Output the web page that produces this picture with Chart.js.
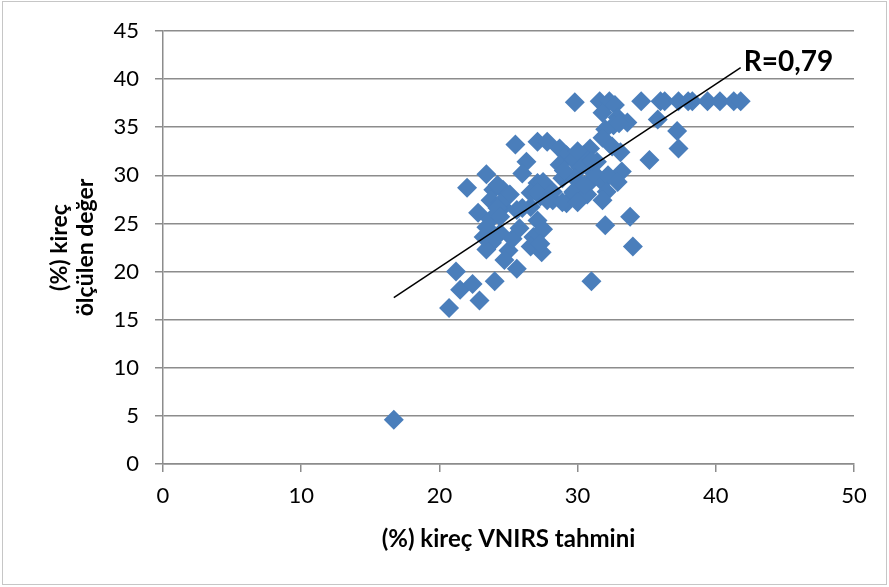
<!DOCTYPE html>
<html>
<head>
<meta charset="utf-8">
<script src="https://cdn.jsdelivr.net/npm/chart.js@4"></script>
<style>
html, body { margin: 0; padding: 0; background: #fff; }
#wrap { width: 889px; height: 587px; }
</style>
</head>
<body>
<div id="wrap"><canvas id="myChart" width="889" height="587"></canvas></div>
<script>
'use strict';

// measured vs predicted lime (%)
var predX = [
    16.7, 20.7, 21.2, 21.5, 22.4, 22.9, 24.0, 22.0, 22.8, 23.4,
    23.4, 23.8, 23.4, 24.4, 25.0, 24.7, 25.6, 25.3, 25.8, 23.2,
    24.6, 25.6, 26.6, 27.1, 26.8, 26.6, 27.5, 27.4, 27.3, 23.9,
    24.6, 25.1, 23.7, 24.4, 24.2, 23.7, 24.4, 26.0, 24.2, 25.5,
    26.3, 26.0, 27.1, 27.8, 27.1, 27.8, 27.3, 28.2, 29.2, 29.7,
    26.6, 28.7, 29.2, 29.7, 29.8, 31.6, 32.3, 32.7, 34.6, 36.0,
    36.3, 37.3, 38.0, 38.3, 39.4, 40.3, 41.3, 41.8, 31.8, 32.9,
    33.6, 32.6, 32.0, 31.8, 30.9, 30.4, 31.4, 33.1, 28.7, 30.2,
    33.2, 27.5, 28.9, 29.8, 30.9, 31.8, 32.2, 27.1, 28.2, 29.7,
    30.7, 32.1, 32.9, 27.8, 28.9, 30.0, 31.8, 35.8, 37.2, 37.3,
    35.2, 32.0, 33.8, 34.0, 31.0, 33.0, 30.5, 31.2, 29.0, 30.0,
    31.0, 32.5
];
var measY = [
     4.6, 16.2, 20.0, 18.1, 18.7, 17.0, 19.0, 28.7, 26.1, 30.1,
    24.6, 23.0, 22.3, 24.0, 22.2, 21.2, 20.3, 23.4, 24.5, 23.6,
    26.7, 26.4, 26.7, 25.3, 23.6, 22.6, 24.4, 22.0, 22.9, 28.5,
    28.5, 28.0, 27.4, 27.1, 26.6, 25.4, 25.7, 26.6, 29.0, 33.2,
    31.4, 30.2, 33.5, 33.5, 29.2, 28.8, 27.8, 27.4, 27.1, 28.2,
    28.2, 32.8, 32.1, 31.6, 37.6, 37.7, 37.7, 37.3, 37.7, 37.7,
    37.7, 37.7, 37.7, 37.7, 37.7, 37.7, 37.7, 37.7, 36.5, 36.0,
    35.5, 35.2, 34.8, 33.9, 32.8, 32.1, 31.4, 32.4, 31.1, 30.8,
    30.4, 29.3, 29.7, 29.7, 29.3, 29.3, 30.0, 28.3, 28.3, 28.3,
    28.0, 28.3, 29.3, 27.4, 27.2, 27.2, 27.4, 35.8, 34.6, 32.8,
    31.6, 24.8, 25.7, 22.6, 19.0, 35.4, 29.0, 30.2, 30.5, 32.5,
    31.5, 33.0
];

// trend line end points and label
var trendX = [16.7, 41.8];
var trendY = [17.3, 41.2];
var rLabel = 'R=0,79';

var xTicks = [0, 10, 20, 30, 40, 50];
var yTicks = [0, 5, 10, 15, 20, 25, 30, 35, 40, 45];

var xTitle = '(%) kireç VNIRS tahmini';
var yTitle = ['(%) kireç', 'ölçülen değer'];

var points = predX.map(function(x, i){ return { x: x, y: measY[i] }; });
var trend = trendX.map(function(x, i){ return { x: x, y: trendY[i] }; });

var bgPlugin = {
    id: 'bg',
    beforeDraw: function(chart){
        var c = chart.ctx;
        c.save();
        c.fillStyle = '#fff';
        c.fillRect(0, 0, chart.width, chart.height);
        c.strokeStyle = '#c6c6c6';
        c.lineWidth = 1;
        c.strokeRect(2.5, 1.5, chart.width - 5, chart.height - 4);
        c.restore();
    },
    afterDatasetsDraw: function(chart){
        var c = chart.ctx;
        var xs = chart.scales.x, ys = chart.scales.y;
        c.save();
        c.fillStyle = '#000';
        c.font = 'bold 28px Lato';
        c.textAlign = 'left';
        c.textBaseline = 'middle';
        c.fillText(rLabel, xs.getPixelForValue(trendX[1]) + 3, ys.getPixelForValue(trendY[1]) - 6);
        c.restore();
    }
};

const ctx = document.getElementById('myChart');
var myChart = new Chart(ctx, {
    type: 'scatter',
    data: {
        datasets: [{
            data: points,
            pointStyle: 'rectRot',
            pointRadius: 10,
            pointBorderWidth: 0,
            backgroundColor: '#4a7ebb',
            borderColor: '#4a7ebb',
            order: 2
        }, {
            type: 'line',
            data: trend,
            borderColor: '#000',
            borderWidth: 1.5,
            pointRadius: 0,
            fill: false,
            order: 1
        }]
    },
    options: {
        responsive: false,
        animation: false,
        layout: { padding: { left: 0, right: 35, top: 31, bottom: 0 } },
        plugins: {
            legend: { display: false },
            tooltip: { enabled: false }
        },
        scales: {
            x: {
                type: 'linear',
                min: 0,
                max: 50,
                afterBuildTicks: function(s){ s.ticks = xTicks.map(function(v){ return { value: v }; }); },
                afterFit: function(s){ s.height = 123; },
                grid: { drawOnChartArea: false, drawTicks: true, tickLength: 8, color: '#8c8c8c', lineWidth: 1.5 },
                border: { display: true, color: '#8c8c8c', width: 1.5 },
                ticks: { color: '#000', font: { family: 'Lato', size: 22 }, padding: 11 },
                title: {
                    display: true,
                    text: xTitle,
                    color: '#000',
                    font: { family: 'Lato', size: 24, weight: 'bold' },
                    padding: { top: 0, bottom: 33 }
                }
            },
            y: {
                type: 'linear',
                min: 0,
                max: 45,
                afterBuildTicks: function(s){ s.ticks = yTicks.map(function(v){ return { value: v }; }); },
                afterFit: function(s){ s.width = 163; },
                grid: { drawTicks: true, tickLength: 8, color: '#8c8c8c', lineWidth: 1.5 },
                border: { display: true, color: '#8c8c8c', width: 1.5 },
                ticks: { color: '#000', font: { family: 'Lato', size: 22 }, padding: 16 },
                title: {
                    display: true,
                    text: yTitle,
                    color: '#000',
                    font: { family: 'Lato', size: 23, weight: 'bold', lineHeight: 1.13 },
                    padding: { top: 47, bottom: 0 }
                }
            }
        }
    },
    plugins: [bgPlugin]
});
</script>
</body>
</html>
